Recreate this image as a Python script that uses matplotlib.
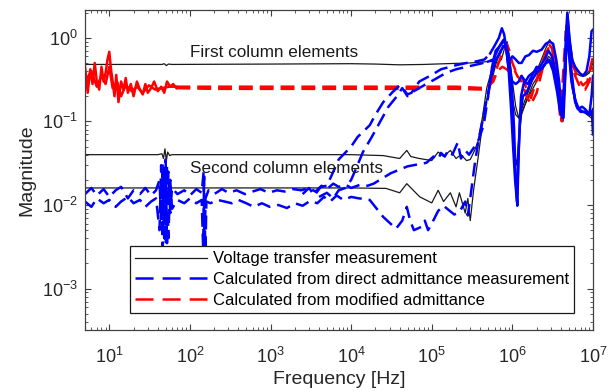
import numpy as np
import matplotlib
matplotlib.use('Agg')
import matplotlib.pyplot as plt
from matplotlib.lines import Line2D
from matplotlib.ticker import NullFormatter

plt.rcParams['font.family'] = ['Liberation Sans', 'DejaVu Sans']
plt.rcParams['lines.scale_dashes'] = False

# ---- voltage transfer measurement (black) ----
k1_f = [5, 45, 48, 51, 54, 60, 1e3, 1e4, 2e4, 4e4, 8e4, 1.5e5, 3e5, 5e5, 6e5, 6.6e5, 7.3e5, 8e5, 8.6e5,
        9.2e5, 1e6, 1.1e6, 1.2e6, 1.3e6, 1.5e6, 1.8e6, 2.2e6, 2.6e6, 2.9e6, 3.2e6, 3.5e6, 3.9e6, 4.2e6,
        4.45e6, 4.7e6, 4.9e6, 5.2e6, 5.7e6, 6.3e6, 7e6, 8e6, 9e6, 1e7]
k1_m = [0.48, 0.48, 0.49, 0.465, 0.485, 0.48, 0.485, 0.49, 0.485, 0.475, 0.48, 0.49, 0.5, 0.52, 0.52,
        0.5, 0.55, 0.75, 0.9, 0.6, 0.3, 0.15, 0.11, 0.14, 0.2, 0.32, 0.5, 0.75, 0.95, 0.8, 0.45, 0.2,
        0.1, 0.3, 1.1, 1.9, 0.9, 0.5, 0.4, 0.37, 0.36, 0.4, 0.55]

k2_f = [5, 40, 45, 47, 49, 51, 53, 56, 60, 1e3, 1e4, 2.5e4, 4e4, 4.9e4, 5.5e4, 7e4, 1e5, 1.2e5, 1.4e5,
        1.7e5, 2e5, 2.3e5, 2.7e5, 3e5, 3.4e5, 3.8e5, 4.3e5, 4.8e5, 5.5e5, 6.3e5, 7e5, 7.8e5, 8.5e5,
        9.2e5, 1e6, 1.1e6, 1.2e6, 1.35e6, 1.6e6, 2e6, 2.4e6, 2.8e6, 3.1e6, 3.5e6, 3.9e6, 4.25e6, 4.5e6,
        4.8e6, 5.1e6, 5.6e6, 6.3e6, 7e6, 8e6, 9e6, 1e7]
k2_m = [0.04, 0.04, 0.041, 0.036, 0.047, 0.034, 0.043, 0.039, 0.04, 0.04, 0.04, 0.039, 0.036, 0.045,
        0.038, 0.036, 0.034, 0.043, 0.038, 0.045, 0.036, 0.04, 0.034, 0.035, 0.045, 0.06, 0.12, 0.25,
        0.4, 0.55, 0.7, 0.8, 0.75, 0.4, 0.18, 0.12, 0.11, 0.14, 0.2, 0.3, 0.45, 0.6, 0.55, 0.3, 0.14,
        0.1, 0.4, 1.3, 0.8, 0.45, 0.37, 0.35, 0.35, 0.38, 0.5]

k3_f = [5, 1e3, 1e4, 2.7e4, 4e4, 4.9e4, 7.1e4, 1e5, 1.2e5, 1.4e5, 1.7e5, 2e5, 2.2e5, 2.6e5, 2.8e5, 3e5,
        3.3e5, 3.8e5, 4.3e5, 4.8e5, 5.5e5, 6.3e5, 7e5, 7.8e5, 8.5e5, 9.3e5, 1e6, 1.07e6, 1.13e6, 1.2e6,
        1.3e6, 1.5e6, 1.8e6, 2.2e6, 2.6e6, 2.9e6, 3.2e6, 3.6e6, 4e6, 4.3e6, 4.6e6, 4.85e6, 5.2e6, 5.8e6,
        6.5e6, 7.5e6, 8.5e6, 9.5e6, 1e7]
k3_m = [0.016, 0.016, 0.016, 0.0158, 0.014, 0.018, 0.0125, 0.0106, 0.015, 0.011, 0.014, 0.0095, 0.014,
        0.008, 0.012, 0.0065, 0.015, 0.04, 0.1, 0.18, 0.3, 0.5, 0.65, 0.8, 0.7, 0.3, 0.1, 0.04, 0.03,
        0.06, 0.12, 0.18, 0.28, 0.38, 0.5, 0.55, 0.5, 0.28, 0.14, 0.11, 0.5, 1.5, 0.5, 0.2, 0.14, 0.13,
        0.12, 0.11, 0.12]

# ---- calculated from modified admittance (red) ----
r1_f = [5, 5.4, 5.8, 6.2, 6.6, 7.0, 7.5, 8.0, 8.5, 9.0, 9.5, 10, 10.5, 11, 11.6, 12.2, 13, 14, 15, 16,
        17, 18.5, 20, 22, 24, 26, 28, 30, 33, 36, 40, 44, 48, 52, 57, 62, 68, 200, 600, 2e3, 6e3, 2e4,
        6e4, 2e5, 4.5e5, 5e5, 5.5e5, 6.2e5, 7e5, 7.8e5, 8.5e5, 9.2e5, 1e6, 1.1e6, 1.25e6, 1.4e6, 1.55e6,
        1.7e6, 1.9e6, 2.2e6, 2.5e6, 2.8e6, 3.1e6, 3.5e6, 3.9e6, 4.2e6, 4.6e6, 5e6, 5.6e6, 6.5e6, 7.5e6,
        8.5e6, 9.3e6, 1e7]
r1_m = [0.45, 0.22, 0.42, 0.28, 0.5, 0.3, 0.24, 0.45, 0.3, 0.38, 0.55, 0.68, 0.42, 0.3, 0.2, 0.36, 0.17,
        0.3, 0.24, 0.33, 0.22, 0.28, 0.2, 0.3, 0.24, 0.21, 0.28, 0.22, 0.25, 0.3, 0.23, 0.26, 0.22, 0.3,
        0.26, 0.28, 0.25, 0.245, 0.245, 0.245, 0.245, 0.245, 0.245, 0.245, 0.24, 0.25, 0.3, 0.4, 0.55,
        0.75, 0.85, 0.7, 0.5, 0.4, 0.37, 0.3, 0.22, 0.19, 0.27, 0.42, 0.6, 0.85, 0.75, 0.35, 0.12, 0.3,
        1.2, 0.8, 0.48, 0.33, 0.27, 0.3, 0.45, 0.6]

r2_f = [5, 6, 7, 8, 9, 10, 11, 12.5, 14, 16, 19, 22, 26, 31, 37, 45, 55, 68, 200, 600, 2e3, 6e3,
        2e4, 6e4, 2e5, 4.8e5, 5.8e5, 6.5e5, 7.5e5, 8.5e5, 9.5e5, 1.05e6, 1.15e6, 1.3e6, 1.5e6,
        1.7e6, 2e6, 2.4e6, 2.8e6, 3.2e6, 3.7e6, 4.1e6, 4.4e6, 4.7e6, 5.2e6, 6e6, 7e6, 8e6, 9e6, 1e7]
r2_m = [0.3, 0.4, 0.26, 0.35, 0.28, 0.45, 0.25, 0.3, 0.2, 0.27, 0.23, 0.26, 0.22, 0.27, 0.24, 0.25, 0.26,
        0.26, 0.26, 0.26, 0.26, 0.26, 0.26, 0.26, 0.26, 0.25, 0.3, 0.4, 0.45, 0.42, 0.38, 0.42, 0.35, 0.3,
        0.2, 0.16, 0.22, 0.45, 0.75, 0.6, 0.2, 0.1, 0.3, 1.0, 0.55, 0.35, 0.25, 0.24, 0.3, 0.45]

# ---- calculated from direct admittance measurement (blue) ----
ba_f = [2500, 3000, 3500, 4200, 5000, 6000, 7000, 8000, 1e4, 1.2e4, 1.5e4, 1.7e4, 2e4, 2.5e4, 3.2e4, 4e4,
        4.5e4, 5e4, 5.6e4, 7e4, 1e5, 1.3e5, 2e5, 2.7e5, 3.5e5, 4.5e5, 5.3e5, 6e5, 6.8e5, 7.4e5, 7.9e5,
        8.4e5, 8.8e5, 9.4e5, 1e6, 1.1e6, 1.2e6, 1.3e6, 1.45e6, 1.6e6, 1.8e6, 2e6, 2.3e6, 2.6e6, 2.9e6,
        3.2e6, 3.5e6, 3.8e6, 4.1e6, 4.35e6, 4.6e6, 4.8e6, 5.1e6, 5.5e6, 6e6, 6.8e6, 7.5e6, 8.3e6, 9e6,
        9.6e6, 1e7]
ba_m = [0.0135, 0.016, 0.013, 0.0165, 0.017, 0.025, 0.035, 0.04, 0.05, 0.065, 0.08, 0.09, 0.12, 0.17,
        0.22, 0.27, 0.24, 0.21, 0.22, 0.3, 0.36, 0.42, 0.47, 0.5, 0.52, 0.55, 0.65, 0.8, 1.0, 1.3, 1.1,
        0.75, 0.5, 0.55, 0.6, 0.55, 0.5, 0.5, 0.6, 0.62, 0.7, 0.68, 0.72, 0.85, 0.9, 0.85, 0.55, 0.3,
        0.12, 0.25, 1.0, 2.0, 1.0, 0.55, 0.45, 0.38, 0.35, 0.4, 0.6, 1.2, 1.25]

bb_f = [4000, 5000, 6000, 7000, 8500, 1e4, 1.2e4, 1.4e4, 1.8e4, 2.3e4, 2.9e4, 3.7e4, 4.3e4, 5e4, 6e4,
        8e4, 1.1e5, 1.5e5, 2e5, 3e5, 4e5, 5e5, 5.8e5, 6.5e5, 7.2e5, 7.8e5, 8.3e5, 8.8e5, 9.3e5, 1e6,
        1.1e6, 1.2e6, 1.3e6, 1.45e6, 1.6e6, 1.9e6, 2.2e6, 2.5e6, 2.8e6, 3.1e6, 3.4e6, 3.7e6, 4e6, 4.3e6,
        4.5e6, 4.75e6, 5e6, 5.4e6, 6e6, 6.5e6, 7.3e6, 8e6, 9e6, 9.6e6, 1e7]
bb_m = [0.0125, 0.014, 0.012, 0.015, 0.016, 0.02, 0.03, 0.043, 0.065, 0.1, 0.15, 0.2, 0.25, 0.2, 0.23,
        0.27, 0.32, 0.38, 0.42, 0.46, 0.49, 0.52, 0.55, 0.7, 0.85, 0.95, 0.8, 0.55, 0.35, 0.3, 0.28, 0.3,
        0.35, 0.3, 0.35, 0.4, 0.45, 0.55, 0.7, 0.6, 0.4, 0.25, 0.15, 0.11, 0.3, 1.4, 0.9, 0.4, 0.17, 0.14,
        0.15, 0.14, 0.12, 0.2, 0.35]

bc_f = [5, 6, 7, 8.5, 10, 12, 14, 17, 20, 24, 28, 33, 38, 42, 44, 46, 48, 50, 52, 54, 57, 60, 70, 85,
        100, 120, 140, 148, 152, 156, 170, 200, 250, 300, 380, 480, 600, 750, 950, 1200, 1500, 1900,
        2400, 3000, 3600, 4300, 5000, 6000, 7000, 8500, 1e4, 1.3e4, 1.6e4, 1.9e4, 3.1e4, 5e4, 8.6e4,
        1.05e5, 1.2e5, 1.3e5, 1.45e5, 1.6e5, 1.8e5, 2.1e5, 2.3e5, 2.6e5, 2.9e5, 3.3e5, 3.8e5, 4.4e5, 5e5,
        5.6e5, 6.2e5, 7e5, 7.8e5, 8.3e5, 9e5, 9.8e5, 1.05e6, 1.1e6, 1.15e6, 1.2e6, 1.28e6, 1.4e6, 1.55e6,
        1.75e6, 2e6, 2.3e6, 2.6e6, 2.9e6, 3.2e6, 3.6e6, 3.9e6, 4.2e6, 4.5e6, 4.75e6, 5e6, 5.4e6, 6e6,
        6.7e6, 7.5e6, 8.5e6, 9.3e6, 1e7]
bc_m = [0.0135, 0.016, 0.013, 0.0155, 0.0125, 0.015, 0.0165, 0.012, 0.015, 0.0135, 0.016, 0.013, 0.015,
        0.02, 0.006, 0.032, 0.004, 0.035, 0.0035, 0.025, 0.008, 0.016, 0.0135, 0.015, 0.013, 0.0155,
        0.014, 0.025, 0.002, 0.012, 0.015, 0.0135, 0.0155, 0.014, 0.015, 0.0135, 0.0145, 0.0155, 0.014,
        0.015, 0.0145, 0.0155, 0.015, 0.016, 0.0145, 0.017, 0.0155, 0.018, 0.0165, 0.0175, 0.016, 0.0175,
        0.017, 0.018, 0.024, 0.029, 0.032, 0.038, 0.035, 0.042, 0.038, 0.045, 0.04, 0.056, 0.036, 0.045,
        0.04, 0.048, 0.06, 0.09, 0.2, 0.45, 0.7, 0.8, 0.9, 0.85, 0.6, 0.3, 0.08, 0.02, 0.0098, 0.05, 0.2,
        0.3, 0.28, 0.35, 0.45, 0.42, 0.5, 0.52, 0.4, 0.22, 0.13, 0.11, 0.35, 1.2, 0.7, 0.3, 0.18, 0.14,
        0.13, 0.13, 0.12, 0.14]

bd_f = [5, 6, 7, 8.5, 10, 12, 14, 17, 20, 24, 28, 33, 38, 42, 44, 46, 48, 50, 52, 54, 57, 60, 70, 85,
        100, 120, 140, 146, 150, 155, 160, 180, 220, 270, 330, 400, 500, 620, 780, 980, 1250, 1600, 2000,
        2500, 3100, 3800, 4600, 5500, 6600, 8000, 1e4, 1.25e4, 1.5e4, 1.7e4, 2.5e4, 3.6e4, 4.3e4, 4.9e4,
        5.4e4, 6e4, 7.5e4, 8.2e4, 9e4, 1e5, 1.2e5, 1.4e5, 1.6e5, 1.9e5, 2.2e5, 2.6e5, 2.8e5, 3e5, 3.4e5,
        3.8e5, 4.4e5, 5e5, 5.5e5, 6.2e5, 7e5, 7.7e5, 8.4e5, 9e5, 9.6e5, 1.02e6, 1.08e6, 1.14e6, 1.18e6,
        1.25e6, 1.35e6, 1.5e6, 1.7e6, 2e6, 2.4e6, 2.8e6, 3.1e6, 3.5e6, 3.9e6, 4.2e6, 4.5e6, 4.8e6, 5.1e6,
        5.6e6, 6.3e6, 7e6, 8e6, 9e6, 9.7e6, 1e7]
bd_m = [0.011, 0.0095, 0.012, 0.0105, 0.0115, 0.0095, 0.011, 0.0125, 0.0105, 0.0115, 0.0095, 0.011,
        0.012, 0.005, 0.03, 0.003, 0.028, 0.0025, 0.03, 0.004, 0.02, 0.009, 0.0115, 0.0105, 0.012, 0.0105,
        0.0115, 0.003, 0.022, 0.002, 0.011, 0.0105, 0.0115, 0.011, 0.0105, 0.0115, 0.0105, 0.0095, 0.0105,
        0.0095, 0.01, 0.0092, 0.0105, 0.0098, 0.0112, 0.0105, 0.0125, 0.011, 0.013, 0.0115, 0.0125, 0.012,
        0.0118, 0.0115, 0.0072, 0.0052, 0.0065, 0.0095, 0.0065, 0.005, 0.0055, 0.0065, 0.005, 0.006,
        0.0085, 0.0098, 0.0088, 0.0077, 0.0082, 0.011, 0.0075, 0.012, 0.03, 0.06, 0.12, 0.22, 0.35, 0.55,
        0.65, 0.8, 0.75, 0.4, 0.15, 0.05, 0.02, 0.011, 0.03, 0.12, 0.2, 0.22, 0.3, 0.38, 0.45, 0.55, 0.5,
        0.3, 0.15, 0.12, 0.4, 1.6, 0.6, 0.25, 0.15, 0.13, 0.13, 0.12, 0.13, 0.07]

legend_labels = ['Voltage transfer measurement',
                 'Calculated from direct admittance measurement',
                 'Calculated from modified admittance']

DASH = (0, (10, 5))


def draw(ax, f, m, color, lo, hi):
    # solid where the trace is dense/noisy (below lo, above hi), dashed in between
    f = np.asarray(f, dtype=float)
    m = np.asarray(m, dtype=float)
    a = int(np.searchsorted(f, lo))
    b = int(np.searchsorted(f, hi))
    if a > 0:
        ax.plot(f[:a + 1], m[:a + 1], color=color, lw=1.8, solid_joinstyle='round')
    ax.plot(f[a:b + 1], m[a:b + 1], color=color, lw=1.8, linestyle=DASH)
    if b < len(f) - 1:
        ax.plot(f[b:], m[b:], color=color, lw=1.8, solid_joinstyle='round')


fig = plt.figure(figsize=(6.13, 3.92), dpi=100)
ax = fig.add_axes([0.1387, 0.1582, 0.8287, 0.8163])
ax.set_xscale('log')
ax.set_yscale('log')

for f, m in [(k1_f, k1_m), (k2_f, k2_m), (k3_f, k3_m)]:
    ax.plot(f, m, color='#1a1a1a', lw=0.9)
for f, m in [(r1_f, r1_m), (r2_f, r2_m)]:
    draw(ax, f, m, '#ff0000', 68, 1e8)
for f, m in [(ba_f, ba_m), (bb_f, bb_m), (bc_f, bc_m), (bd_f, bd_m)]:
    draw(ax, f, m, '#0000ff', 0, 5e5)

ax.set_xlim(5, 1e7)
ax.set_ylim(3.2e-4, 2.15)
ax.set_xticks([1e1, 1e2, 1e3, 1e4, 1e5, 1e6, 1e7])
ax.set_yticks([1e-3, 1e-2, 1e-1, 1e0])

ax.text(100, 0.66, 'First column elements', fontsize=12.3, color='#1a1a1a', va='center')
ax.text(100, 0.027, 'Second column elements', fontsize=12.3, color='#1a1a1a', va='center')

ax.set_xlabel('Frequency [Hz]', fontsize=14, color='#262626', labelpad=3)
ax.set_ylabel('Magnitude', fontsize=14, color='#262626', labelpad=5)
ax.xaxis.set_minor_formatter(NullFormatter())
ax.yaxis.set_minor_formatter(NullFormatter())
ax.tick_params(which='both', direction='in', top=True, right=True, colors='#404040',
               labelcolor='#262626', labelsize=13)
ax.tick_params(which='major', length=4)
ax.tick_params(axis='x', which='major', pad=12)
ax.tick_params(axis='y', which='major', pad=5)
ax.tick_params(which='minor', length=2.5)
for s in ax.spines.values():
    s.set_color('#404040')
    s.set_linewidth(0.9)

handles = [Line2D([], [], color='#1a1a1a', lw=0.9),
           Line2D([], [], color='#0000ff', lw=1.8, linestyle=(0, (13, 6.5))),
           Line2D([], [], color='#ff0000', lw=1.8, linestyle=(0, (13, 6.5)))]
leg = ax.legend(handles, legend_labels, loc='lower left', bbox_to_anchor=(0.0886, 0.053),
                borderaxespad=0, fontsize=12, handlelength=4.3, handletextpad=0.4,
                labelspacing=0.35, borderpad=0.3, fancybox=False, framealpha=1,
                edgecolor='#1a1a1a')
leg.get_frame().set_linewidth(0.9)

fig.savefig('out.png', dpi=100)
